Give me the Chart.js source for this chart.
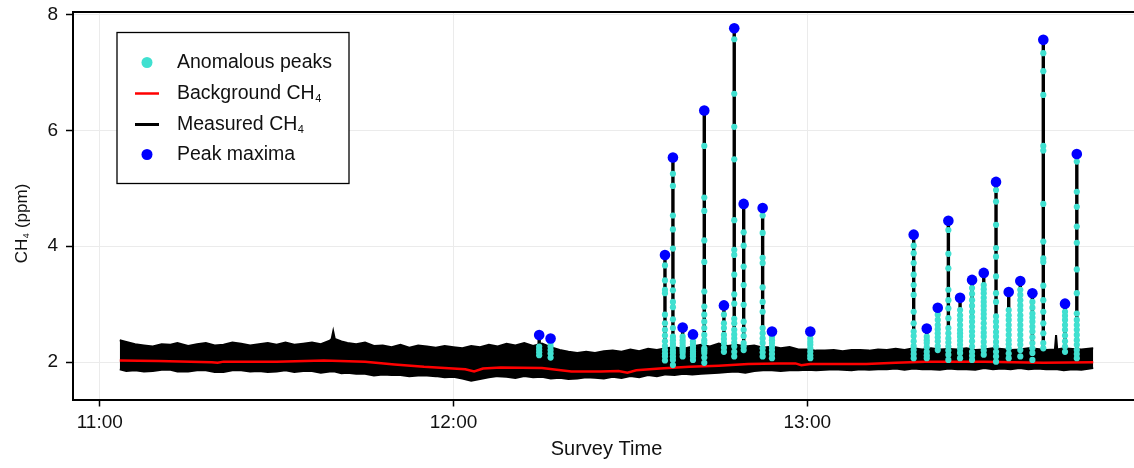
<!DOCTYPE html>
<html>
<head>
<meta charset="utf-8">
<script src="https://cdn.jsdelivr.net/npm/chart.js@4.4.1/dist/chart.umd.min.js"></script>
<style>
html, body { margin: 0; padding: 0; background: #fff; }
#wrap { width: 1134px; height: 468px; }
</style>
</head>
<body>
<div id="wrap"><canvas id="myChart" width="1134" height="468"></canvas></div>
<script>
// survey clock times
const xTicks = ['11:00', '12:00', '13:00'];
const yTicks = [2, 4, 6, 8];

// measured CH4 band (upper / lower envelope of the noisy trace)
const bandTimes = ['11:03:24', '11:04:30', '11:06', '11:07:30', '11:09', '11:10:30', '11:12', '11:13:10', '11:15',
  '11:16:30', '11:18', '11:19:30', '11:21', '11:22:30', '11:24', '11:25:30', '11:27', '11:28:30', '11:30',
  '11:31:30', '11:33', '11:34:30', '11:36', '11:37:30', '11:39', '11:39:20', '11:39:36', '11:39:52', '11:41',
  '11:42', '11:43:30', '11:45', '11:46:30', '11:48', '11:49:30', '11:51', '11:52:30', '11:54', '11:55:30',
  '11:57', '11:58:30', '12:00', '12:01:30', '12:03', '12:04:30', '12:06', '12:07:30', '12:09', '12:10:30',
  '12:12', '12:13:30', '12:15', '12:16:30', '12:18', '12:19:30', '12:21', '12:22:30', '12:24', '12:25:30',
  '12:27', '12:28:30', '12:30', '12:31:30', '12:33', '12:34:30', '12:36', '12:37:30', '12:39', '12:40:30',
  '12:42', '12:43:30', '12:45', '12:46:30', '12:48', '12:49:30', '12:51', '12:52:30', '12:54', '12:55:30',
  '12:57', '12:58:30', '13:00', '13:01:30', '13:03', '13:04:30', '13:06', '13:07:30', '13:09', '13:10:30',
  '13:12', '13:13:30', '13:15', '13:16:30', '13:18', '13:19:30', '13:21', '13:22:30', '13:24', '13:25:30',
  '13:27', '13:28:30', '13:30', '13:31:30', '13:33', '13:34:30', '13:36', '13:37:30', '13:39', '13:40:30',
  '13:42', '13:42:12', '13:42:24', '13:43:30', '13:45', '13:46:30', '13:48:30'];
const bandHigh = [2.38, 2.35, 2.31, 2.29, 2.27, 2.31, 2.30, 2.33, 2.28, 2.31, 2.33, 2.29, 2.30, 2.34, 2.32, 2.29,
  2.31, 2.33, 2.30, 2.34, 2.30, 2.32, 2.34, 2.31, 2.37, 2.40, 2.53, 2.40, 2.36, 2.33, 2.31, 2.34, 2.28, 2.29,
  2.26, 2.30, 2.25, 2.29, 2.27, 2.25, 2.28, 2.26, 2.24, 2.28, 2.26, 2.30, 2.27, 2.32, 2.29, 2.33, 2.28, 2.32,
  2.26, 2.21, 2.18, 2.16, 2.18, 2.16, 2.19, 2.20, 2.18, 2.22, 2.19, 2.23, 2.21, 2.24, 2.26, 2.23, 2.27, 2.30,
  2.27, 2.32, 2.28, 2.30, 2.27, 2.29, 2.25, 2.27, 2.24, 2.26, 2.22, 2.22, 2.20, 2.20, 2.21, 2.19, 2.21, 2.21,
  2.20, 2.22, 2.21, 2.23, 2.21, 2.24, 2.22, 2.24, 2.22, 2.23, 2.22, 2.24, 2.21, 2.22, 2.24, 2.23, 2.21, 2.22,
  2.24, 2.23, 2.21, 2.22, 2.47, 2.22, 2.24, 2.23, 2.22, 2.24];
const bandLow = [1.88, 1.85, 1.86, 1.84, 1.85, 1.87, 1.87, 1.84, 1.84, 1.86, 1.86, 1.83, 1.83, 1.86, 1.86, 1.84,
  1.85, 1.83, 1.84, 1.86, 1.83, 1.85, 1.85, 1.82, 1.84, 1.84, 1.84, 1.84, 1.81, 1.82, 1.80, 1.80, 1.77, 1.79,
  1.78, 1.78, 1.76, 1.77, 1.77, 1.76, 1.74, 1.75, 1.72, 1.68, 1.71, 1.74, 1.76, 1.75, 1.73, 1.76, 1.74, 1.75,
  1.72, 1.73, 1.71, 1.72, 1.74, 1.73, 1.72, 1.75, 1.73, 1.76, 1.74, 1.78, 1.76, 1.79, 1.78, 1.80, 1.79, 1.80,
  1.81, 1.82, 1.83, 1.84, 1.82, 1.85, 1.86, 1.86, 1.85, 1.86, 1.86, 1.87, 1.86, 1.87, 1.88, 1.87, 1.86, 1.88,
  1.87, 1.88, 1.88, 1.89, 1.87, 1.89, 1.88, 1.88, 1.87, 1.89, 1.88, 1.88, 1.87, 1.90, 1.88, 1.89, 1.88, 1.90,
  1.88, 1.89, 1.88, 1.88, 1.88, 1.88, 1.86, 1.88, 1.87, 1.90];

// background CH4
const bgTimes = ['11:03:24', '11:10', '11:19', '11:20', '11:21', '11:30', '11:38', '11:45', '11:50', '11:55',
  '12:02', '12:03:30', '12:05', '12:08', '12:15', '12:20', '12:25', '12:28', '12:29:30', '12:31', '12:35',
  '12:40', '12:45', '12:50', '12:55', '12:58', '12:59', '13:00:30', '13:10', '13:15', '13:20', '13:30',
  '13:40', '13:48:30'];
const bgValues = [2.03, 2.02, 2.00, 1.99, 2.01, 2.01, 2.03, 2.01, 1.96, 1.92,
  1.88, 1.84, 1.89, 1.91, 1.90, 1.84, 1.84, 1.85, 1.82, 1.86, 1.89,
  1.92, 1.94, 1.97, 1.98, 1.98, 1.95, 1.97, 1.97, 1.99, 2.01, 2.01,
  1.99, 2.00];

// peak maxima
const peakTimes = ['12:14:32', '12:16:28', '12:35:52', '12:37:13', '12:38:52', '12:40:37', '12:42:32',
  '12:45:52', '12:47:37', '12:49:13', '12:52:26', '12:54:01', '13:00:31', '13:18:03', '13:20:16',
  '13:22:08', '13:23:56', '13:25:55', '13:27:57', '13:29:56', '13:32:01', '13:34:10', '13:36:08',
  '13:38:11', '13:40:02', '13:43:43', '13:45:43'];
const peakMax = [2.47, 2.41, 3.85, 5.53, 2.60, 2.48, 6.34, 2.98, 7.76, 4.73, 4.66, 2.53, 2.53, 4.20,
  2.58, 2.94, 4.44, 3.11, 3.42, 3.54, 5.11, 3.21, 3.40, 3.19, 7.56, 3.01, 5.59];

// anomalous readings for each peak (same order as peakTimes)
const anomValues = [
  [2.27, 2.22, 2.17, 2.12],
  [2.33, 2.27, 2.21, 2.15, 2.08],
  [3.67, 3.41, 3.25, 3.19, 2.82, 2.67, 2.56, 2.46, 2.36, 2.28, 2.21, 2.15, 2.10, 2.03],
  [5.25, 5.04, 4.53, 4.29, 3.96, 3.39, 3.24, 3.04, 2.95, 2.74, 2.59, 2.44, 2.38, 2.32, 2.27, 2.21, 2.16, 2.10, 2.04, 1.95],
  [2.44, 2.38, 2.33, 2.28, 2.24, 2.20, 2.16, 2.10],
  [2.36, 2.31, 2.27, 2.22, 2.18, 2.14, 2.10, 2.04],
  [5.73, 4.84, 4.61, 4.10, 3.73, 3.22, 2.96, 2.82, 2.70, 2.59, 2.47, 2.38, 2.33, 2.24, 2.20, 2.16, 2.08, 1.99],
  [2.82, 2.67, 2.59, 2.47, 2.40, 2.33, 2.25, 2.18],
  [7.57, 6.63, 6.06, 5.50, 4.45, 3.94, 3.85, 3.51, 3.17, 3.01, 2.75, 2.67, 2.56, 2.48, 2.41, 2.34, 2.27, 2.18, 2.10],
  [4.24, 4.01, 3.65, 3.33, 2.99, 2.70, 2.56, 2.45, 2.33, 2.27, 2.21],
  [4.53, 4.23, 3.80, 3.71, 3.29, 3.04, 2.87, 2.59, 2.50, 2.41, 2.33, 2.24, 2.17, 2.10],
  [2.44, 2.38, 2.33, 2.27, 2.21, 2.14, 2.07],
  [2.41, 2.35, 2.30, 2.24, 2.18, 2.12, 2.07],
  [4.01, 3.88, 3.71, 3.51, 3.33, 3.16, 2.87, 2.67, 2.53, 2.45, 2.36, 2.28, 2.21, 2.14, 2.07],
  [2.44, 2.38, 2.33, 2.26, 2.18, 2.12, 2.07],
  [2.82, 2.73, 2.64, 2.57, 2.50, 2.43, 2.36, 2.28, 2.21],
  [4.28, 3.87, 3.62, 3.25, 3.07, 2.93, 2.76, 2.59, 2.50, 2.41, 2.34, 2.27, 2.20, 2.13, 2.04],
  [2.90, 2.81, 2.73, 2.64, 2.56, 2.50, 2.44, 2.37, 2.30, 2.23, 2.16, 2.07],
  [3.28, 3.18, 3.07, 2.97, 2.87, 2.78, 2.70, 2.61, 2.53, 2.45, 2.36, 2.27, 2.18, 2.11, 2.04],
  [3.33, 3.26, 3.19, 3.11, 3.04, 2.97, 2.90, 2.83, 2.76, 2.67, 2.59, 2.51, 2.44, 2.35, 2.27, 2.20, 2.13],
  [4.97, 4.77, 4.37, 3.97, 3.82, 3.48, 3.19, 3.04, 2.79, 2.70, 2.61, 2.52, 2.44, 2.35, 2.27, 2.18, 2.10, 2.01],
  [2.90, 2.81, 2.73, 2.64, 2.56, 2.47, 2.38, 2.31, 2.24, 2.15, 2.07],
  [3.25, 3.16, 3.07, 2.98, 2.90, 2.81, 2.73, 2.64, 2.56, 2.47, 2.38, 2.30, 2.21, 2.10],
  [3.04, 2.94, 2.84, 2.77, 2.70, 2.61, 2.53, 2.43, 2.33, 2.24, 2.16, 2.04],
  [7.33, 7.02, 6.61, 5.73, 5.65, 4.73, 4.08, 3.79, 3.73, 3.32, 3.07, 2.87, 2.67, 2.50, 2.33, 2.24],
  [2.87, 2.80, 2.73, 2.64, 2.56, 2.46, 2.36, 2.27, 2.18],
  [5.46, 4.94, 4.68, 4.34, 4.06, 3.60, 3.19, 2.84, 2.73, 2.64, 2.56, 2.47, 2.38, 2.30, 2.21, 2.14, 2.07]
];

function toMin(s) {
  var p = s.split(':').map(Number);
  return p[0] * 60 + p[1] + (p[2] || 0) / 60;
}
function fmtClock(v) {
  var h = Math.floor(v / 60), m = Math.round(v - h * 60);
  return h + ':' + (m < 10 ? '0' : '') + m;
}

const FONT = "'Liberation Sans', Arial, sans-serif";
const TXT = '#111';

var bandHiPts = bandTimes.map(function (t, i) { return { x: toMin(t), y: bandHigh[i] }; });
var bandLoPts = bandTimes.map(function (t, i) { return { x: toMin(t), y: bandLow[i] }; });
var bgPts = bgTimes.map(function (t, i) { return { x: toMin(t), y: bgValues[i] }; });
var maxPts = peakTimes.map(function (t, i) { return { x: toMin(t), y: peakMax[i] }; });

var anomPts = [];
var spikePts = [];
peakTimes.forEach(function (t, i) {
  var x = toMin(t);
  anomValues[i].forEach(function (v) { anomPts.push({ x: x, y: v }); });
  spikePts.push({ x: x, y: Math.min.apply(null, anomValues[i]) });
  spikePts.push({ x: x, y: peakMax[i] });
  spikePts.push({ x: x, y: null });
});

// text with a subscript, e.g. CH + 4
function chemText(ctx, x, y, size, main, sub, rest) {
  ctx.font = size + 'px ' + FONT;
  ctx.fillText(main, x, y);
  var w = ctx.measureText(main).width;
  ctx.font = Math.round(size * 0.55) + 'px ' + FONT;
  ctx.fillText(sub, x + w + 0.5, y + size * 0.28);
  var ws = ctx.measureText(sub).width + 1;
  if (rest) {
    ctx.font = size + 'px ' + FONT;
    ctx.fillText(rest, x + w + ws, y);
    ws += ctx.measureText(rest).width;
  }
  return w + ws;
}

function noPad(s) {
  s.paddingTop = 0; s.paddingBottom = 0; s.paddingLeft = 0; s.paddingRight = 0;
}

const decor = {
  id: 'decor',
  afterDraw: function (chart) {
    var ctx = chart.ctx, a = chart.chartArea;
    ctx.save();
    // top frame line
    ctx.strokeStyle = '#000';
    ctx.lineWidth = 2;
    ctx.beginPath();
    ctx.moveTo(a.left - 1, a.top);
    ctx.lineTo(a.right, a.top);
    ctx.stroke();

    // axis titles
    ctx.fillStyle = TXT;
    ctx.textBaseline = 'middle';
    ctx.textAlign = 'center';
    ctx.font = '20px ' + FONT;
    ctx.fillText('Survey Time', (a.left + a.right) / 2 + 3, 449);

    ctx.save();
    ctx.translate(22, 223);
    ctx.rotate(-Math.PI / 2);
    ctx.textAlign = 'left';
    ctx.font = '17px ' + FONT;
    var full = ctx.measureText('CH').width + ctx.measureText(' (ppm)').width + 7;
    chemText(ctx, -full / 2, 0, 17, 'CH', '4', ' (ppm)');
    ctx.restore();

    // legend box
    var lx = a.left + 44, ly = a.top + 20.5, lw = 232, lh = 151;
    ctx.fillStyle = '#fff';
    ctx.fillRect(lx, ly, lw, lh);
    ctx.strokeStyle = '#000';
    ctx.lineWidth = 1.3;
    ctx.strokeRect(lx, ly, lw, lh);

    var sx = lx + 30, tx = lx + 60, rows = [ly + 30, ly + 61, ly + 92, ly + 122];
    ctx.fillStyle = '#40e0d0';
    ctx.beginPath(); ctx.arc(sx, rows[0], 5.5, 0, Math.PI * 2); ctx.fill();
    ctx.strokeStyle = '#ff0000'; ctx.lineWidth = 2.5;
    ctx.beginPath(); ctx.moveTo(sx - 12, rows[1]); ctx.lineTo(sx + 12, rows[1]); ctx.stroke();
    ctx.strokeStyle = '#000'; ctx.lineWidth = 3;
    ctx.beginPath(); ctx.moveTo(sx - 12, rows[2]); ctx.lineTo(sx + 12, rows[2]); ctx.stroke();
    ctx.fillStyle = '#0000ff';
    ctx.beginPath(); ctx.arc(sx, rows[3], 5.5, 0, Math.PI * 2); ctx.fill();

    ctx.fillStyle = TXT;
    ctx.textAlign = 'left';
    ctx.font = '19.5px ' + FONT;
    ctx.fillText('Anomalous peaks', tx, rows[0]);
    chemText(ctx, tx, rows[1], 19.5, 'Background CH', '4');
    chemText(ctx, tx, rows[2], 19.5, 'Measured CH', '4');
    ctx.font = '19.5px ' + FONT;
    ctx.fillText('Peak maxima', tx, rows[3]);
    ctx.restore();
  }
};

var tickFont = { family: FONT, size: 19 };

var ctx = document.getElementById('myChart').getContext('2d');
var myChart = new Chart(ctx, {
  type: 'line',
  data: {
    datasets: [
      { label: 'Peak maxima', data: maxPts, showLine: false, pointRadius: 5.3, pointBackgroundColor: '#0000ff', pointBorderWidth: 0, order: 0 },
      { label: 'Anomalous peaks', data: anomPts, showLine: false, pointRadius: 3.1, pointBackgroundColor: '#40e0d0', pointBorderWidth: 0, order: 1 },
      { label: 'Background CH4', data: bgPts, borderColor: '#ff0000', borderWidth: 2.5, pointRadius: 0, tension: 0, order: 2 },
      { label: 'spikes', data: spikePts, borderColor: '#000', borderWidth: 3.4, pointRadius: 0, spanGaps: false, order: 3 },
      { label: 'Measured CH4', data: bandHiPts, borderColor: '#000', borderWidth: 2, pointRadius: 0, fill: '+1', backgroundColor: '#000', order: 4 },
      { label: 'measured low', data: bandLoPts, borderColor: '#000', borderWidth: 2, pointRadius: 0, fill: false, order: 5 }
    ]
  },
  options: {
    responsive: false,
    devicePixelRatio: 1,
    animation: false,
    events: [],
    layout: { autoPadding: false, padding: { top: 12, right: 0, left: 0, bottom: 0 } },
    plugins: { legend: { display: false }, tooltip: { enabled: false } },
    scales: {
      x: {
        type: 'linear',
        min: toMin('10:55:28'),
        max: toMin('13:55:25'),
        afterBuildTicks: function (s) { s.ticks = xTicks.map(function (t) { return { value: toMin(t) }; }); },
        afterFit: function (s) { s.height = 68.5; noPad(s); },
        ticks: { callback: function (v) { return fmtClock(v); }, font: tickFont, color: TXT, padding: 5, maxRotation: 0 },
        grid: { color: '#ebebeb', lineWidth: 1, tickColor: '#000', tickLength: 7, tickWidth: 1.5 },
        border: { color: '#000', width: 2 }
      },
      y: {
        min: 1.357,
        max: 8.04,
        afterBuildTicks: function (s) { s.ticks = yTicks.map(function (v) { return { value: v }; }); },
        afterFit: function (s) { s.width = 73; noPad(s); },
        ticks: { font: tickFont, color: TXT, padding: 8 },
        grid: { color: '#ebebeb', lineWidth: 1, tickColor: '#000', tickLength: 7, tickWidth: 1.5 },
        border: { color: '#000', width: 2 }
      }
    }
  },
  plugins: [decor]
});
</script>
</body>
</html>
